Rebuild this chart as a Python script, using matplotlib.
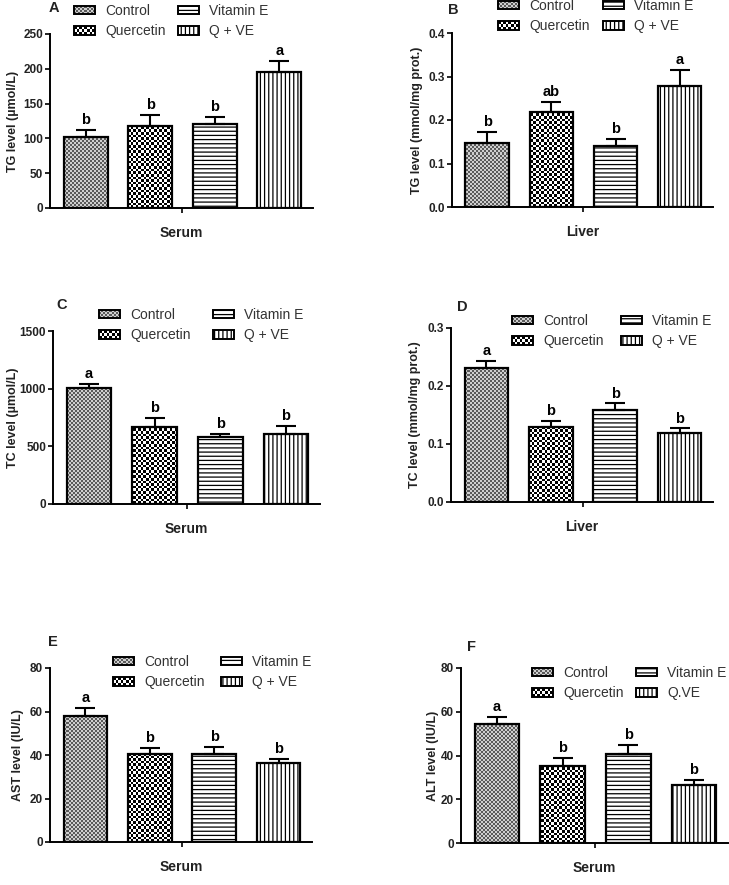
import numpy as np
import matplotlib
matplotlib.use('Agg')
import matplotlib.pyplot as plt
from matplotlib.patches import Rectangle
from matplotlib.colors import ListedColormap
from matplotlib.legend_handler import HandlerBase

# ---- data ----
groups = ['Control', 'Quercetin', 'Vitamin E', 'Q + VE']
groups_f = ['Control', 'Quercetin', 'Vitamin E', 'Q.VE']

tg_serum = [102, 118, 120, 195]
tg_serum_err = [10, 16, 11, 16]
tg_serum_sig = ['b', 'b', 'b', 'a']

tg_liver = [0.148, 0.218, 0.141, 0.279]
tg_liver_err = [0.024, 0.023, 0.015, 0.037]
tg_liver_sig = ['b', 'ab', 'b', 'a']

tc_serum = [1010, 669, 577, 611]
tc_serum_err = [34, 78, 29, 67]
tc_serum_sig = ['a', 'b', 'b', 'b']

tc_liver = [0.231, 0.129, 0.159, 0.119]
tc_liver_err = [0.012, 0.011, 0.011, 0.008]
tc_liver_sig = ['a', 'b', 'b', 'b']

ast = [57.8, 40.6, 40.3, 36.5]
ast_err = [3.8, 2.5, 3.4, 1.8]
ast_sig = ['a', 'b', 'b', 'b']

alt = [54.6, 35.2, 40.5, 26.3]
alt_err = [3.2, 3.8, 4.3, 2.7]
alt_sig = ['a', 'b', 'b', 'b']

W, H = 729, 885
plt.rcParams['font.family'] = ['Liberation Sans', 'DejaVu Sans']
plt.rcParams['hatch.linewidth'] = 0.9

fig = plt.figure(figsize=(W / 100, H / 100), dpi=100)

# layout in image pixels: axes (left, top, right, bottom), panel letter,
# legend (handle left, first row centre, column spacing), ylabel centre offset
panels = [
    dict(letter='A', vals=tg_serum, err=tg_serum_err, sig=tg_serum_sig, labels=groups,
         box=(50, 34, 313, 208), lpos=(54, 8), leg=(74, 11, 12), ylab='TG level (µmol/L)',
         yoff=37, xlab='Serum', ticks=[0, 50, 100, 150, 200, 250], fmt='{:.0f}'),
    dict(letter='B', vals=tg_liver, err=tg_liver_err, sig=tg_liver_sig, labels=groups,
         box=(452, 33, 713, 207), lpos=(453, 10), leg=(498, 6, 13), ylab='TG level (mmol/mg prot.)',
         yoff=35, xlab='Liver', ticks=[0, 0.1, 0.2, 0.3, 0.4], fmt='{:.1f}'),
    dict(letter='C', vals=tc_serum, err=tc_serum_err, sig=tc_serum_sig, labels=groups,
         box=(53, 331, 320, 504), lpos=(62, 305), leg=(99, 315, 22), ylab='TC level (µmol/L)',
         yoff=40, xlab='Serum', ticks=[0, 500, 1000, 1500], fmt='{:.0f}'),
    dict(letter='D', vals=tc_liver, err=tc_liver_err, sig=tc_liver_sig, labels=groups,
         box=(451, 328, 713, 502), lpos=(462, 307), leg=(512, 321, 17), ylab='TC level (mmol/mg prot.)',
         yoff=36, xlab='Liver', ticks=[0, 0.1, 0.2, 0.3], fmt='{:.1f}'),
    dict(letter='E', vals=ast, err=ast_err, sig=ast_sig, labels=groups,
         box=(50, 668, 312, 842), lpos=(53, 642), leg=(113, 662, 16), ylab='AST level (IU/L)',
         yoff=32, xlab='Serum', ticks=[0, 20, 40, 60, 80], fmt='{:.0f}'),
    dict(letter='F', vals=alt, err=alt_err, sig=alt_sig, labels=groups_f,
         box=(461, 668, 728, 843), lpos=(472, 647), leg=(532, 673, 12), ylab='ALT level (IU/L)',
         yoff=28, xlab='Serum', ticks=[0, 20, 40, 60, 80], fmt='{:.0f}'),
]

# fill styles: (kind, cell px / hatch, colours)
fine_cmap = ListedColormap(['#cfcfcf', '#5a5a5a'])
coarse_cmap = ListedColormap(['white', 'black'])
styles = [('checker', 2.0, fine_cmap), ('checker', 2.6, coarse_cmap),
          ('hatch', '----', None), ('hatch', '||||', None)]


def checker(ax, patch, cell, cmap):
    bb = ax.get_position()
    wpx, hpx = bb.width * W, bb.height * H
    nx, ny = int(round(wpx / cell)), int(round(hpx / cell))
    arr = np.add.outer(np.arange(ny), np.arange(nx)) % 2
    x0, x1 = ax.get_xlim()
    y0, y1 = ax.get_ylim()
    im = ax.imshow(arr, cmap=cmap, vmin=0, vmax=1, extent=(x0, x1, y0, y1),
                   origin='lower', aspect='auto', interpolation='nearest', zorder=2)
    im.set_clip_path(patch)
    ax.set_xlim(x0, x1)
    ax.set_ylim(y0, y1)


class CheckerHandler(HandlerBase):
    def __init__(self, cell, cmap):
        super().__init__()
        self.cell = cell * 0.72  # px -> pt
        self.cmap = cmap

    def create_artists(self, legend, orig_handle, xdescent, ydescent,
                       width, height, fontsize, trans):
        x0, y0 = -xdescent, -ydescent
        nx = max(1, int(round(width / self.cell)))
        ny = max(1, int(round(height / self.cell)))
        cw, ch = width / nx, height / ny
        arts = [Rectangle((x0, y0), width, height, facecolor=self.cmap(0),
                          edgecolor='none', transform=trans)]
        for i in range(nx):
            for j in range(ny):
                if (i + j) % 2 == 0:
                    arts.append(Rectangle((x0 + i * cw, y0 + j * ch), cw, ch,
                                          facecolor=self.cmap(1), edgecolor='none',
                                          transform=trans))
        arts.append(Rectangle((x0, y0), width, height, facecolor='none',
                              edgecolor='black', lw=1.4, transform=trans))
        return arts


x = np.arange(4)
for p in panels:
    l, t, r, b = p['box']
    ax = fig.add_axes([l / W, 1 - b / H, (r - l) / W, (b - t) / H])
    ax.set_xlim(-0.55, 3.52)
    ax.set_ylim(0, p['ticks'][-1])

    hatches = [s[1] if s[0] == 'hatch' else '' for s in styles]
    bars = ax.bar(x, p['vals'], width=0.68, facecolor='none', edgecolor='black',
                  linewidth=1.6, hatch=hatches, zorder=3)
    for bar, s in zip(bars, styles):
        if s[0] == 'checker':
            checker(ax, bar, s[1], s[2])

    ax.errorbar(x, p['vals'], yerr=[[0] * 4, p['err']], fmt='none', ecolor='black',
                elinewidth=1.5, capsize=7, capthick=1.5, zorder=4)
    for xi, v, e, s in zip(x, p['vals'], p['err'], p['sig']):
        ax.annotate(s, (xi, v + e), xytext=(0, 2), textcoords='offset points',
                    ha='center', va='bottom', fontsize=10.5, fontweight='bold')

    for side in ['top', 'right']:
        ax.spines[side].set_visible(False)
    for side in ['left', 'bottom']:
        ax.spines[side].set_linewidth(1.4)
    ax.set_yticks(p['ticks'])
    ax.set_yticklabels([p['fmt'].format(v) for v in p['ticks']],
                       fontsize=8.5, fontweight='bold', color='#222222')
    ax.set_xticks([1.5])
    ax.set_xticklabels([''])
    ax.tick_params(axis='both', direction='out', length=3.5, width=1.2, pad=1.5)
    ax.set_ylabel(p['ylab'], fontsize=9, fontweight='bold', color='#222222')
    ax.yaxis.set_label_coords(-(p['yoff'] - 6) / (r - l), 0.5)
    ax.text(0.5, -25 / (b - t), p['xlab'], transform=ax.transAxes, ha='center',
            va='center', fontsize=10, fontweight='bold', color='#222222')
    fig.text(p['lpos'][0] / W, 1 - p['lpos'][1] / H, p['letter'], ha='center',
             va='center', fontsize=10.5, fontweight='bold', color='#222222')

    # legend with proxy handles
    handles = [Rectangle((0, 0), 1, 1, facecolor='white', edgecolor='black', lw=1.4,
                         hatch=s[1] if s[0] == 'hatch' else '') for s in styles]
    hmap = {handles[i]: CheckerHandler(styles[i][1], styles[i][2]) for i in range(2)}
    hx, hy, cs = p['leg']
    ax.legend(handles, p['labels'], handler_map=hmap, ncol=2, loc='upper left',
              bbox_to_anchor=(hx / W, 1 - (hy - 7) / H), bbox_transform=fig.transFigure,
              frameon=False, borderpad=0, borderaxespad=0, fontsize=10,
              handlelength=1.5, handleheight=0.55, handletextpad=0.75,
              labelspacing=0.45, columnspacing=cs * 0.72 / 10, labelcolor='#333333')

fig.savefig('out.png', dpi=100)
